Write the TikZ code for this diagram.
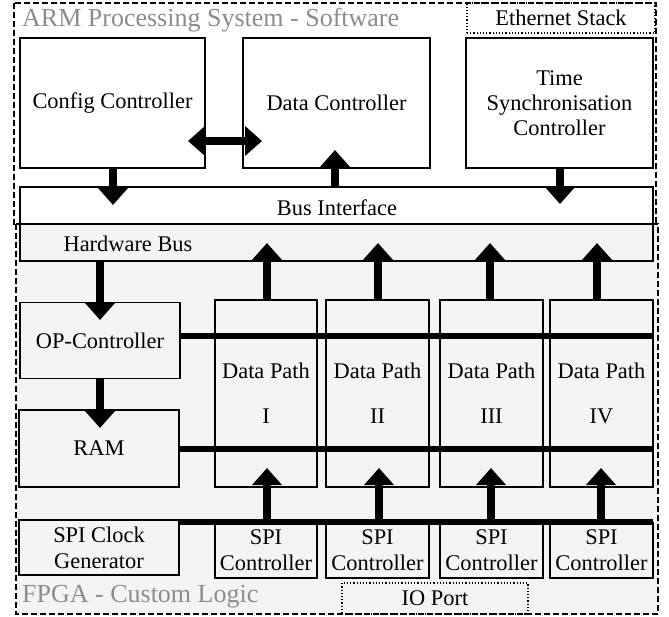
\documentclass[tikz,border=0pt]{standalone}
\usepackage{fontspec}
\setmainfont{Liberation Serif}
\usetikzlibrary{arrows.meta}
\definecolor{fpgagray}{HTML}{F4F4F4}
\definecolor{labgray}{HTML}{8C8C8C}
\begin{document}
\begin{tikzpicture}[x=1pt,y=-1pt,
  box/.style={draw, line width=1.3pt, inner sep=0pt, align=center,
    font=\fontsize{22.4}{26}\selectfont},
  dpbox/.style={box, font=\fontsize{22.4}{45}\selectfont},
  tbox/.style={box, font=\fontsize{22.4}{25}\selectfont},
  dotbox/.style={draw, dotted, line width=1.2pt, inner sep=0pt,
    font=\fontsize{22.4}{26}\selectfont},
  bigarrow/.style={line width=8.5pt, -{Triangle[width=29pt,length=17pt]}},
  bigdouble/.style={line width=8.5pt,
    {Triangle[width=29pt,length=17pt]}-{Triangle[width=29pt,length=17pt]}},
  busline/.style={line width=5.5pt},
  txt/.style={inner sep=0pt, font=\fontsize{22.4}{26}\selectfont},
  regionlabel/.style={inner sep=0pt, anchor=west, text=labgray,
    font=\fontsize{26}{30}\selectfont},
  region/.style={dash pattern=on 6pt off 3pt, line width=1.2pt}
]
\useasboundingbox (0,0) rectangle (669,617);
\fill[white] (0,0) rectangle (669,617);
% regions
\filldraw[region, fill=fpgagray] (16,224) rectangle (658,614);
\draw[region] (14,3) rectangle (656,224);
\node[regionlabel] (armlab) at (22,20) {ARM Processing System - Software};
\node[regionlabel] (fpgalab) at (22,597) {FPGA - Custom Logic};
\node[dotbox, minimum width=188pt, minimum height=30pt] (eth) at (561,18) {Ethernet Stack};
\node[dotbox, minimum width=186pt, minimum height=31pt] (io) at (435,598.5) {IO Port};

% software boxes
\node[box, fill=white, minimum width=185pt, minimum height=130pt] (cfg) at (112.5,103) {Config Controller};
\node[box, fill=white, minimum width=187pt, minimum height=130pt] (dc) at (336.5,103) {Data Controller};
\node[tbox, fill=white, minimum width=187pt, minimum height=130pt] (ts) at (559.5,103) {Time\\Synchronisation\\Controller};

% bus
\node[box, minimum width=633pt, minimum height=74pt] (bus) at (336.5,224) {};
\node[txt] (busl) at (337,208) {Bus Interface};
\node[txt] (hwl) at (128,244) {Hardware Bus};

% hardware boxes
\node[box, minimum width=160pt, minimum height=76pt] (op) at (100,340.5) {OP-Controller};
\node[box, minimum width=160pt, minimum height=77pt] (ram) at (99,448.5) {RAM};
\node[box, minimum width=160pt, minimum height=55pt] (scg) at (99,547.5) {SPI Clock\\Generator};

\node[dpbox, minimum width=102pt, minimum height=187pt] (dp1) at (266,393.5) {Data Path\\I};
\node[dpbox, minimum width=103pt, minimum height=187pt] (dp2) at (377.5,393.5) {Data Path\\II};
\node[dpbox, minimum width=103pt, minimum height=187pt] (dp3) at (491.5,393.5) {Data Path\\III};
\node[dpbox, minimum width=103pt, minimum height=187pt] (dp4) at (601.5,393.5) {Data Path\\IV};

\node[box, minimum width=102pt, minimum height=55pt] (spi1) at (266,550.5) {SPI\\Controller};
\node[box, minimum width=103pt, minimum height=55pt] (spi2) at (377.5,550.5) {SPI\\Controller};
\node[box, minimum width=103pt, minimum height=55pt] (spi3) at (491.5,550.5) {SPI\\Controller};
\node[box, minimum width=103pt, minimum height=55pt] (spi4) at (601.5,550.5) {SPI\\Controller};

% coordinates
\coordinate (cfgtip) at (113,205);
\coordinate (dctip) at (335,150);
\coordinate (tstip) at (560,204);
\coordinate (dl) at (188,141);
\coordinate (dr) at (262,141);
\coordinate (optip) at (100,320);
\coordinate (ramtip) at (100,428);
\coordinate (up1) at (267,243);
\coordinate (up2) at (378,243);
\coordinate (up3) at (490,243);
\coordinate (up4) at (597,243);
\coordinate (sp1) at (267,468);
\coordinate (sp2) at (379,468);
\coordinate (sp3) at (491,468);
\coordinate (sp4) at (601,468);
\coordinate (opl) at (653,336);
\coordinate (raml) at (653,449);
\coordinate (spil) at (653,522);

% bus lines
\draw[busline] (op.east |- opl) -- (opl);
\draw[busline] (ram.east |- raml) -- (raml);
\draw[busline] (scg.east |- spil) -- (spil);

% arrows
\draw[bigarrow] (cfg.south -| cfgtip) -- (cfgtip);
\draw[bigarrow] (bus.north -| dctip) -- (dctip);
\draw[bigarrow] (ts.south -| tstip) -- (tstip);
\draw[bigdouble] (dl) -- (dr);
\draw[bigarrow] (bus.south -| optip) -- (optip);
\draw[bigarrow] (op.south -| ramtip) -- (ramtip);
\draw[bigarrow] (dp1.north -| up1) -- (up1);
\draw[bigarrow] (dp2.north -| up2) -- (up2);
\draw[bigarrow] (dp3.north -| up3) -- (up3);
\draw[bigarrow] (dp4.north -| up4) -- (up4);
\draw[bigarrow] (spil -| sp1) -- (sp1);
\draw[bigarrow] (spil -| sp2) -- (sp2);
\draw[bigarrow] (spil -| sp3) -- (sp3);
\draw[bigarrow] (spil -| sp4) -- (sp4);
\end{tikzpicture}
\end{document}
